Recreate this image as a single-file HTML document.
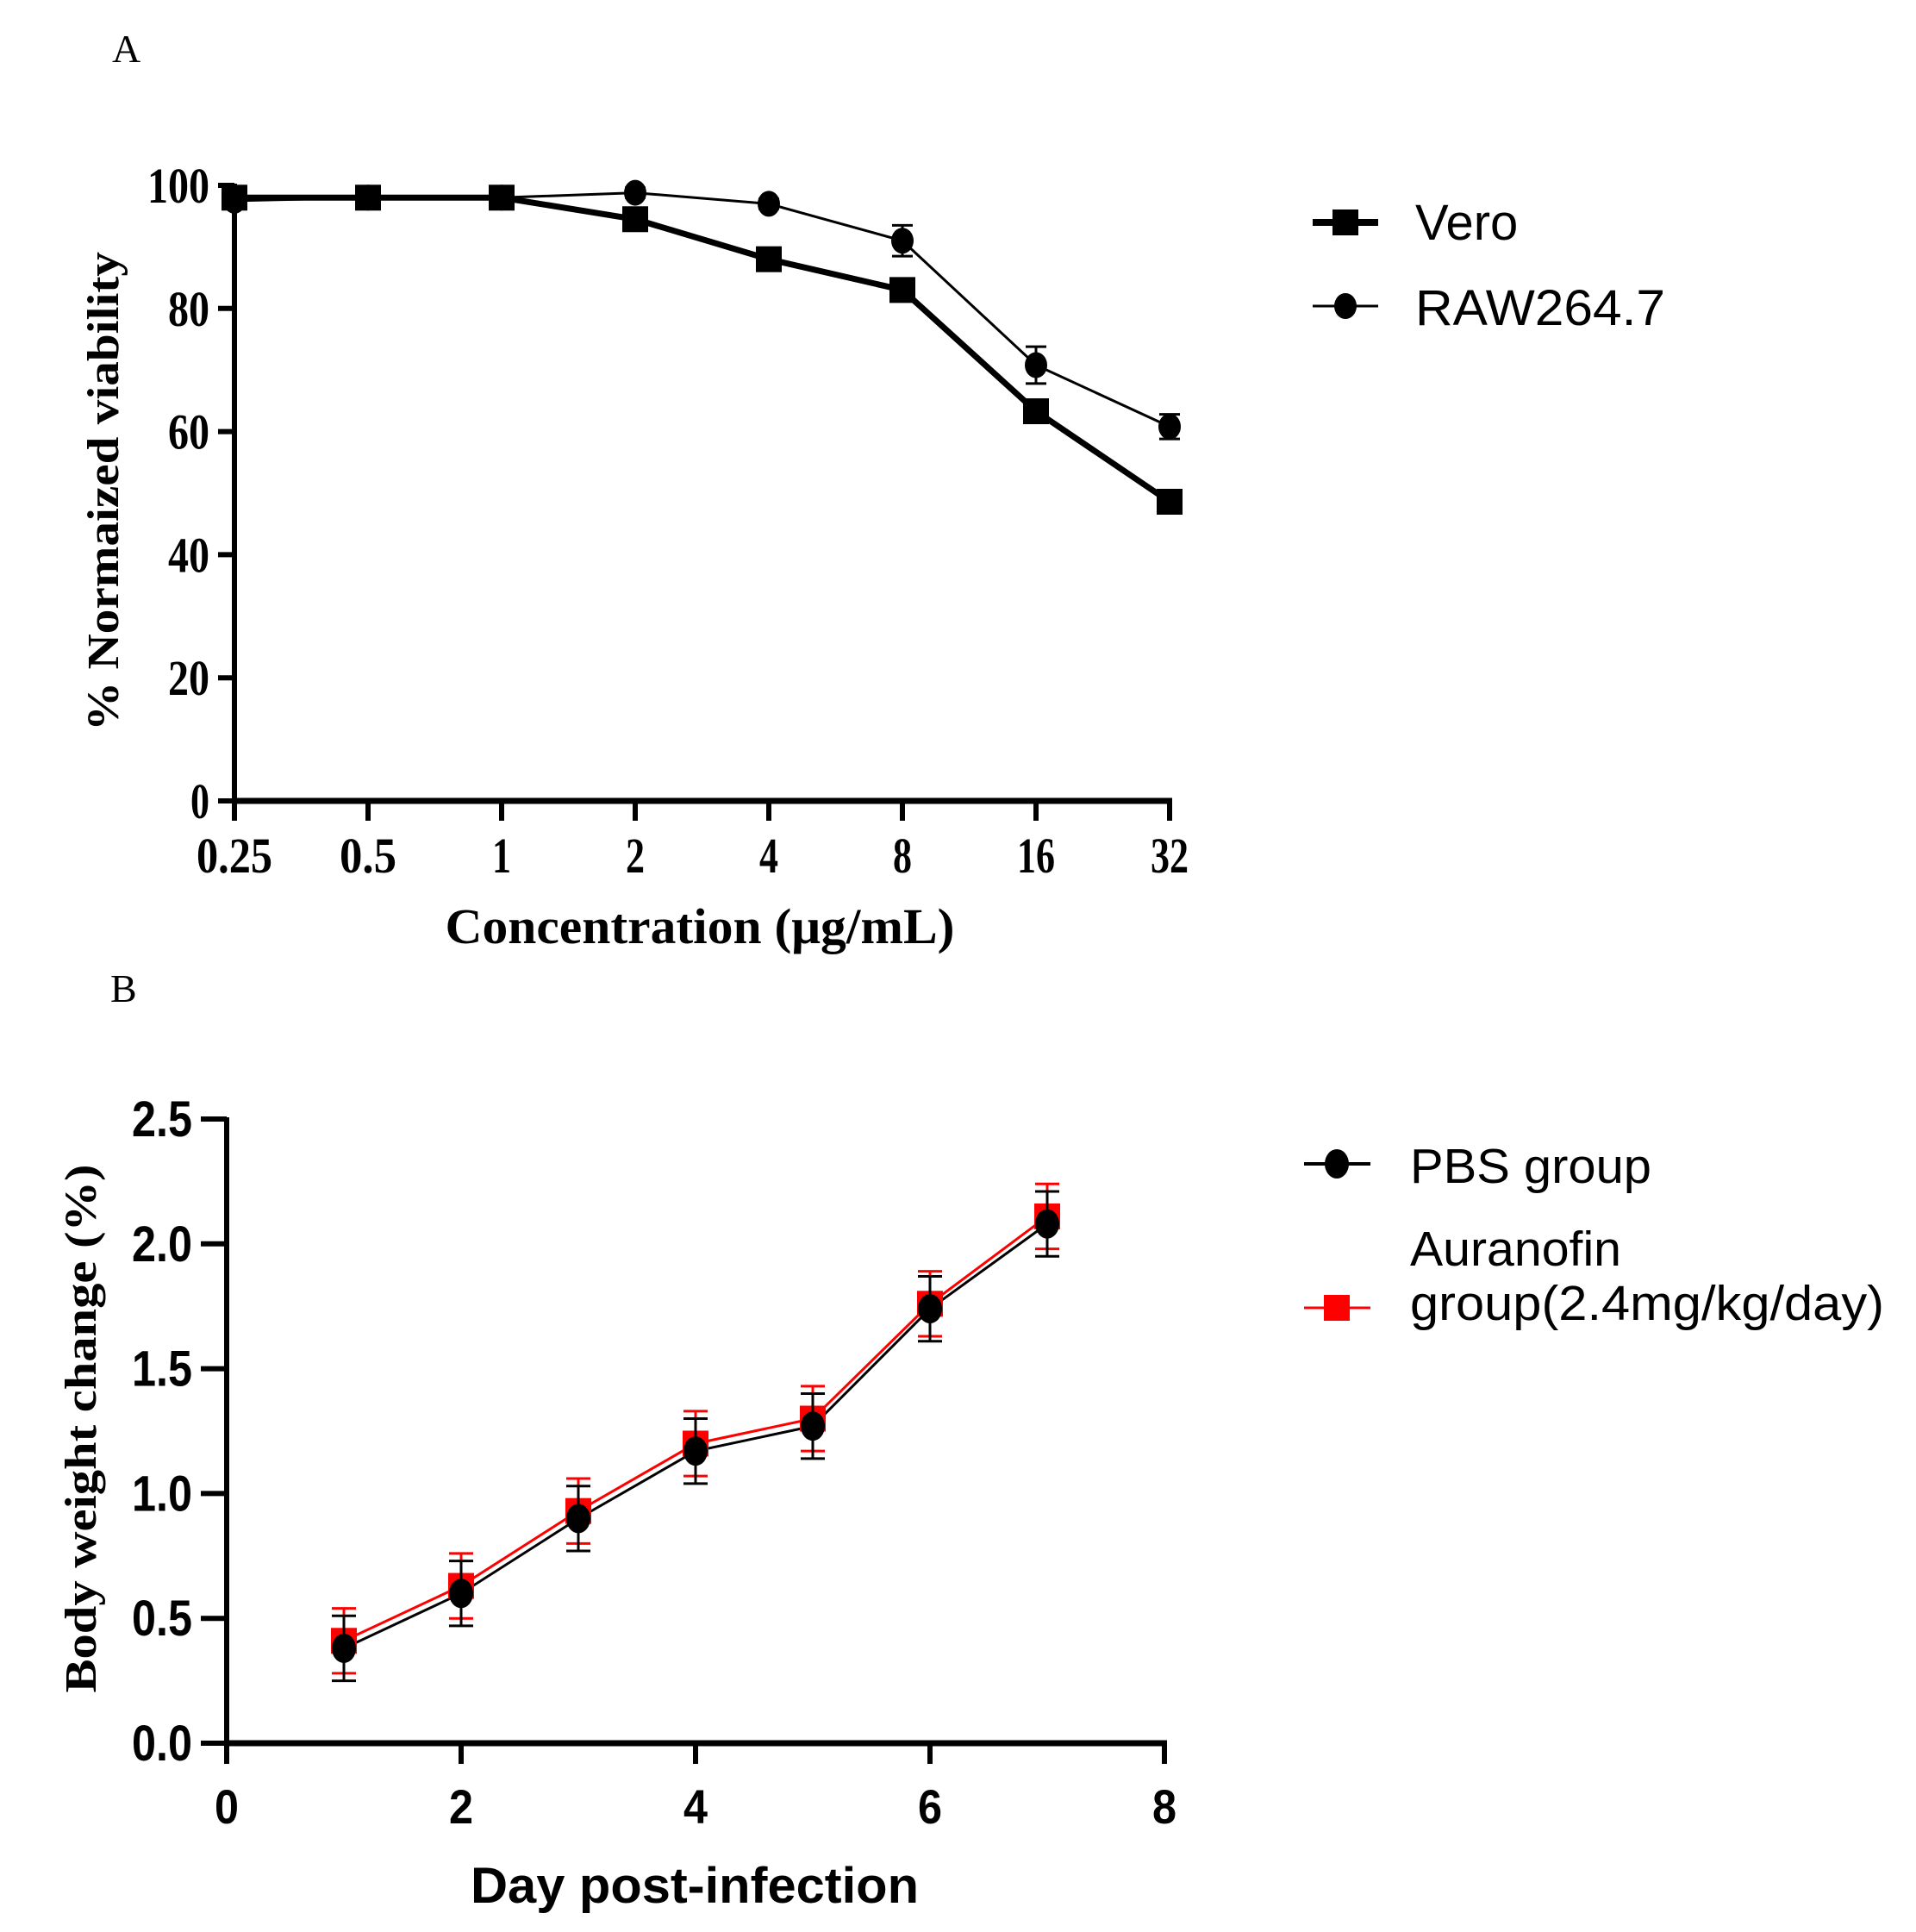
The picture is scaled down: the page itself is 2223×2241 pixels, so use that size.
<!DOCTYPE html>
<html><head><meta charset="utf-8"><style>html,body{margin:0;padding:0;background:#fff}svg{display:block}</style></head>
<body>
<svg id="s" xmlns="http://www.w3.org/2000/svg" width="2223" height="2241" viewBox="0 0 2223 2241">
<rect width="2223" height="2241" fill="#fff"/>
<g font-family="Liberation Serif, serif">
<text x="130" y="72" font-size="46">A</text>
<text x="128" y="1162" font-size="46">B</text>
</g>
<g id="g"></g>
</svg>
<script>
var g=document.getElementById('g'),h='';
function L(x1,y1,x2,y2,w,c){h+='<line x1="'+x1+'" y1="'+y1+'" x2="'+x2+'" y2="'+y2+'" stroke="'+(c||'#000')+'" stroke-width="'+w+'"/>';}
function T(x,y,s,t,a,f,w,extra){h+='<text x="'+x+'" y="'+y+'" font-size="'+s+'" text-anchor="'+(a||'start')+'" font-family="'+f+'" font-weight="'+(w||'normal')+'" '+(extra||'')+'>'+t+'</text>';}
var SER='Liberation Serif, serif',SAN='Liberation Sans, Arial, sans-serif';
// Panel A
var ax0=272,adx=155,ay=function(v){return 929-7.14*v;};
L(ax0,ay(100)-2,ax0,931,6);L(ax0-3,929,1360,929,7);
for(var v=0;v<=100;v+=20){L(253,ay(v),ax0,ay(v),6);T(243,ay(v)+20,58,v,'end',SER,'bold','textLength="'+(v==100?72:(v==0?22:48))+'" lengthAdjust="spacingAndGlyphs"');}
var xl=['0.25','0.5','1','2','4','8','16','32'];
for(var i=0;i<8;i++){var x=ax0+i*adx;L(x,929,x,952,6);T(x,1012,58,xl[i],'middle',SER,'bold','textLength="'+(xl[i].length*22)+'" lengthAdjust="spacingAndGlyphs"');}
T(812,1094,58,'Concentration (μg/mL)','middle',SER,'bold','textLength="591" lengthAdjust="spacingAndGlyphs"');
T(0,0,52,'% Normaized viability','middle',SER,'bold','transform="translate(137,570) rotate(-90)" textLength="556" lengthAdjust="spacingAndGlyphs"');
var vero=[98,98,98,94.5,88,83,63.3,48.6],raw=[97.5,98,98,98.8,97,91,70.8,60.8];
var ve=[1,0.8,0.8,1.2,1.5,1.5,1.2,1],re=[0.8,0.5,0.5,0.8,0.8,2.5,3,2];
var p='';for(i=0;i<8;i++)p+=(i?'L':'M')+(ax0+i*adx)+' '+ay(raw[i]);
h+='<path d="'+p+'" fill="none" stroke="#000" stroke-width="3"/>';
p='';for(i=0;i<8;i++)p+=(i?'L':'M')+(ax0+i*adx)+' '+ay(vero[i]);
h+='<path d="'+p+'" fill="none" stroke="#000" stroke-width="7"/>';
for(i=0;i<8;i++){var x=ax0+i*adx;
 var y1=ay(raw[i]+re[i]),y2=ay(raw[i]-re[i]);L(x,y1,x,y2,3);L(x-12,y1,x+12,y1,3);L(x-12,y2,x+12,y2,3);
 h+='<ellipse cx="'+x+'" cy="'+ay(raw[i])+'" rx="13" ry="15" fill="#000"/>';
 y1=ay(vero[i]+ve[i]);y2=ay(vero[i]-ve[i]);L(x,y1,x,y2,3);L(x-12,y1,x+12,y1,3);L(x-12,y2,x+12,y2,3);
 h+='<rect x="'+(x-15)+'" y="'+(ay(vero[i])-15)+'" width="30" height="30" fill="#000"/>';}
// legend A
L(1523,258,1599,258,8);h+='<rect x="1546" y="243" width="30" height="30" fill="#000"/>';
T(1642,278,58,'Vero','start',SAN,'normal');
L(1523,355,1599,355,3);h+='<ellipse cx="1561" cy="355" rx="13" ry="15" fill="#000"/>';
T(1642,377,58,'RAW264.7','start',SAN,'normal','textLength="290" lengthAdjust="spacingAndGlyphs"');
// Panel B
var bx0=263,bdx=136,by=function(v){return 2022-289.6*v;};
L(bx0,by(2.5)-2,bx0,2024,6);L(bx0-3,2022,1354,2022,7);
var yl=['0.0','0.5','1.0','1.5','2.0','2.5'];
for(i=0;i<6;i++){var y=by(i*0.5);L(233,y,bx0,y,6);T(223,y+20,58,yl[i],'end',SAN,'bold','textLength="70" lengthAdjust="spacingAndGlyphs"');}
for(i=0;i<=4;i++){var x=bx0+i*2*bdx;L(x,2022,x,2046,6);T(x,2115,56,i*2,'middle',SAN,'bold','textLength="28" lengthAdjust="spacingAndGlyphs"');}
T(806,2207,58,'Day post-infection','middle',SAN,'bold','textLength="520" lengthAdjust="spacingAndGlyphs"');
T(0,0,52,'Body weight change (%)','middle',SER,'bold','transform="translate(111,1657) rotate(-90)" textLength="613" lengthAdjust="spacingAndGlyphs"');
var pbs=[0.38,0.6,0.9,1.17,1.27,1.74,2.08],aur=[0.41,0.63,0.93,1.2,1.3,1.76,2.11];
p='';for(i=0;i<7;i++)p+=(i?'L':'M')+(bx0+(i+1)*bdx)+' '+by(aur[i]);
h+='<path d="'+p+'" fill="none" stroke="#f00" stroke-width="3"/>';
p='';for(i=0;i<7;i++)p+=(i?'L':'M')+(bx0+(i+1)*bdx)+' '+by(pbs[i]);
h+='<path d="'+p+'" fill="none" stroke="#000" stroke-width="3"/>';
for(i=0;i<7;i++){var x=bx0+(i+1)*bdx,e=0.13;
 var y1=by(aur[i]+e),y2=by(aur[i]-e);L(x,y1,x,y2,3,'#f00');L(x-14,y1,x+14,y1,3,'#f00');L(x-14,y2,x+14,y2,3,'#f00');
 h+='<rect x="'+(x-15)+'" y="'+(by(aur[i])-15)+'" width="30" height="30" fill="#f00"/>';
 y1=by(pbs[i]+e);y2=by(pbs[i]-e);L(x,y1,x,y2,3);L(x-14,y1,x+14,y1,3);L(x-14,y2,x+14,y2,3);
 h+='<ellipse cx="'+x+'" cy="'+by(pbs[i])+'" rx="14" ry="17" fill="#000"/>';}
// legend B
L(1513,1350,1590,1350,4);h+='<ellipse cx="1551" cy="1350" rx="14" ry="17" fill="#000"/>';
T(1636,1372,57,'PBS group','start',SAN,'normal','textLength="280" lengthAdjust="spacingAndGlyphs"');
T(1636,1468,57,'Auranofin','start',SAN,'normal','textLength="245" lengthAdjust="spacingAndGlyphs"');
T(1636,1531,57,'group(2.4mg/kg/day)','start',SAN,'normal','textLength="550" lengthAdjust="spacingAndGlyphs"');
L(1513,1517,1590,1517,3,'#f00');h+='<rect x="1536" y="1502" width="30" height="30" fill="#f00"/>';
g.innerHTML=h;
</script>
</body></html>
